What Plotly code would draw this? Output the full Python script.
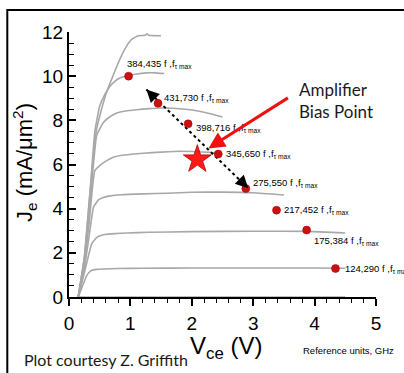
import plotly.graph_objects as go

# ---- data ----
curve0_x = [0.15, 4.5]
curve0_y = [0.0, 0.0]
curve1_x = [0.15, 0.22, 0.29, 0.33, 0.37, 0.45, 0.56, 0.8, 1.2, 2.0, 3.0, 4.0, 4.5]
curve1_y = [0.0, 0.5, 0.98, 1.12, 1.21, 1.25, 1.27, 1.29, 1.30, 1.31, 1.31, 1.31, 1.30]
curve2_x = [0.15, 0.25, 0.32, 0.37, 0.45, 0.52, 0.61, 0.75, 0.94, 1.3, 2.0, 3.0, 3.9, 4.5]
curve2_y = [0.0, 1.1, 1.9, 2.42, 2.69, 2.78, 2.84, 2.87, 2.90, 2.93, 2.96, 2.98, 2.97, 2.90]
curve3_x = [0.15, 0.25, 0.33, 0.40, 0.48, 0.57, 0.67, 0.85, 1.21, 1.6, 2.0, 2.5, 3.0, 3.5]
curve3_y = [0.0, 1.3, 2.8, 4.07, 4.40, 4.52, 4.58, 4.63, 4.67, 4.70, 4.74, 4.75, 4.72, 4.62]
curve4_x = [0.15, 0.25, 0.33, 0.42, 0.50, 0.60, 0.72, 0.9, 1.21, 1.5, 1.8, 2.1, 2.3, 2.5]
curve4_y = [0.0, 1.4, 3.4, 5.72, 5.95, 6.15, 6.33, 6.43, 6.51, 6.56, 6.60, 6.58, 6.55, 6.48]
curve5_x = [0.15, 0.25, 0.35, 0.45, 0.56, 0.66, 0.78, 0.92, 1.10, 1.30, 1.50, 1.70, 1.90, 2.10, 2.30, 2.50]
curve5_y = [0.0, 1.7, 4.5, 7.30, 7.90, 8.15, 8.33, 8.42, 8.48, 8.53, 8.56, 8.55, 8.50, 8.42, 8.30, 8.15]
curve6_x = [0.15, 0.25, 0.35, 0.42, 0.50, 0.58, 0.67, 0.75, 0.83, 0.96, 1.1, 1.26, 1.4, 1.55]
curve6_y = [0.0, 1.8, 5.0, 7.47, 8.65, 9.15, 9.55, 9.78, 9.92, 10.02, 10.10, 10.15, 10.15, 10.12]
curve7_x = [0.15, 0.25, 0.35, 0.45, 0.53, 0.61, 0.70, 0.78, 0.86, 0.94, 1.02, 1.13, 1.24, 1.27, 1.30, 1.50]
curve7_y = [0.0, 1.8, 5.0, 7.6, 8.5, 9.26, 9.9, 10.45, 10.95, 11.37, 11.67, 11.83, 11.85, 11.92, 11.85, 11.83]

bias_x = [0.97, 1.45, 1.94, 2.43, 2.88, 3.38, 3.87, 4.34]
bias_y = [10.0, 8.77, 7.84, 6.47, 4.91, 3.93, 3.03, 1.29]
ft_fmax = ["384,435", "431,730", "398,716", "345,650", "275,550", "217,452", "175,384", "124,290"]
label_x = [0.91, 1.52, 2.04, 2.52, 2.97, 3.47, 3.96, 4.46]
label_y = [10.53, 9.02, 7.66, 6.46, 5.14, 3.94, 2.55, 1.28]

star_x = [2.09]
star_y = [6.23]
sweep_x = [1.26, 2.92]
sweep_y = [9.40, 4.92]
red_arrow_tip = (2.27, 6.73)
red_arrow_tail = (3.59, 9.06)

x_ticks = [0, 1, 2, 3, 4, 5]
y_ticks = [0, 2, 4, 6, 8, 10, 12]

GRAY = "#a8a8a8"
fig = go.Figure()
for cx, cy in [(curve0_x, curve0_y), (curve1_x, curve1_y), (curve2_x, curve2_y),
               (curve3_x, curve3_y), (curve4_x, curve4_y), (curve5_x, curve5_y),
               (curve6_x, curve6_y), (curve7_x, curve7_y)]:
    fig.add_trace(go.Scatter(x=cx, y=cy, mode="lines",
                             line=dict(color=GRAY, width=1.6, shape="spline", smoothing=0.4),
                             hoverinfo="skip", showlegend=False))

fig.add_trace(go.Scatter(x=sweep_x, y=sweep_y, mode="lines",
                         line=dict(color="black", width=2, dash="dot"),
                         showlegend=False, hoverinfo="skip"))

fig.add_trace(go.Scatter(x=bias_x, y=bias_y, mode="markers",
                         marker=dict(color="#cc1010", size=8,
                                     line=dict(color="#a00000", width=0.5)),
                         showlegend=False))

fig.add_trace(go.Scatter(x=star_x, y=star_y, mode="markers",
                         marker=dict(symbol="star", color="#ff1a1a", size=21,
                                     line=dict(color="#b00000", width=0.8)),
                         showlegend=False))

ann = []
lab_font = dict(family="Liberation Sans, Arial", size=9.5, color="black")
for lx, ly, t in zip(label_x, label_y, ft_fmax):
    ann.append(dict(x=lx, y=ly, xref="x", yref="y", text=t + " f ,f<sub>τ max</sub>",
                    showarrow=False, xanchor="left", yanchor="middle", font=lab_font))

# arrowheads of the dotted sweep line
ann.append(dict(x=sweep_x[0], y=sweep_y[0], xref="x", yref="y", ax=9, ay=9, text="",
                showarrow=True, arrowhead=2, arrowsize=1.7, arrowwidth=1.5, arrowcolor="black"))
ann.append(dict(x=sweep_x[1], y=sweep_y[1], xref="x", yref="y", ax=-9, ay=-9, text="",
                showarrow=True, arrowhead=2, arrowsize=1.7, arrowwidth=1.5, arrowcolor="black"))
# red arrow
ann.append(dict(x=red_arrow_tip[0], y=red_arrow_tip[1], xref="x", yref="y",
                ax=red_arrow_tail[0], ay=red_arrow_tail[1], axref="x", ayref="y", text="",
                showarrow=True, arrowhead=2, arrowsize=1.1, arrowwidth=3, arrowcolor="#f01010"))
ann.append(dict(x=3.72, y=8.89, xref="x", yref="y", text="Amplifier<br>Bias Point",
                showarrow=False, xanchor="left", yanchor="middle", align="left",
                font=dict(family="Lato, Open Sans, sans-serif", size=17, color="#1a1a1a")))

# axis titles and footnotes
ann.append(dict(x=-0.143, y=0.506, xref="paper", yref="paper", textangle=-90,
                xanchor="center", yanchor="middle",
                text="J<sub>e</sub> (mA/μm<sup>2</sup>)", showarrow=False,
                font=dict(family="Liberation Sans, Arial", size=22, color="black")))
ann.append(dict(x=0.386, y=-0.19, xref="paper", yref="paper", xanchor="left", yanchor="middle",
                text="V<sub>ce</sub> (V)", showarrow=False,
                font=dict(family="Liberation Sans, Arial", size=24, color="black")))
ann.append(dict(x=-0.153, y=-0.234, xref="paper", yref="paper", xanchor="left", yanchor="middle",
                text="Plot courtesy Z. Griffith", showarrow=False,
                font=dict(family="Lato, Open Sans, sans-serif", size=16, color="#1a1a1a")))
ann.append(dict(x=0.756, y=-0.2, xref="paper", yref="paper", xanchor="left", yanchor="middle",
                text="Reference units, GHz", showarrow=False,
                font=dict(family="Liberation Sans, Arial", size=9.5, color="black")))

fig.update_layout(
    width=404, height=373,
    margin=dict(l=69, r=28, t=32, b=76),
    paper_bgcolor="white", plot_bgcolor="white",
    annotations=ann,
    shapes=[dict(type="rect", xref="paper", yref="paper", x0=-0.201, x1=1.3, y0=-0.45, y1=1.083,
                 line=dict(color="black", width=2), layer="below")],
    xaxis=dict(range=[0, 5], tickvals=x_ticks, ticks="outside", ticklen=7, tickwidth=1.5,
               tickcolor="black", showline=True, linecolor="black", linewidth=2,
               showgrid=False, zeroline=False, ticklabelstandoff=1,
               tickfont=dict(family="Liberation Sans, Arial", size=19, color="black"),
               minor=dict(dtick=0.2, ticks="outside", ticklen=4, tickwidth=1.2, tickcolor="black"),
               layer="below traces"),
    yaxis=dict(range=[0, 12], tickvals=y_ticks, ticks="inside", ticklen=7, tickwidth=1.5,
               tickcolor="black", showline=True, linecolor="black", linewidth=2,
               showgrid=False, zeroline=False,
               tickfont=dict(family="Liberation Sans, Arial", size=19, color="black"),
               minor=dict(dtick=0.5, ticks="inside", ticklen=5, tickwidth=1.2, tickcolor="black")),
)

fig.write_html("out.html")
